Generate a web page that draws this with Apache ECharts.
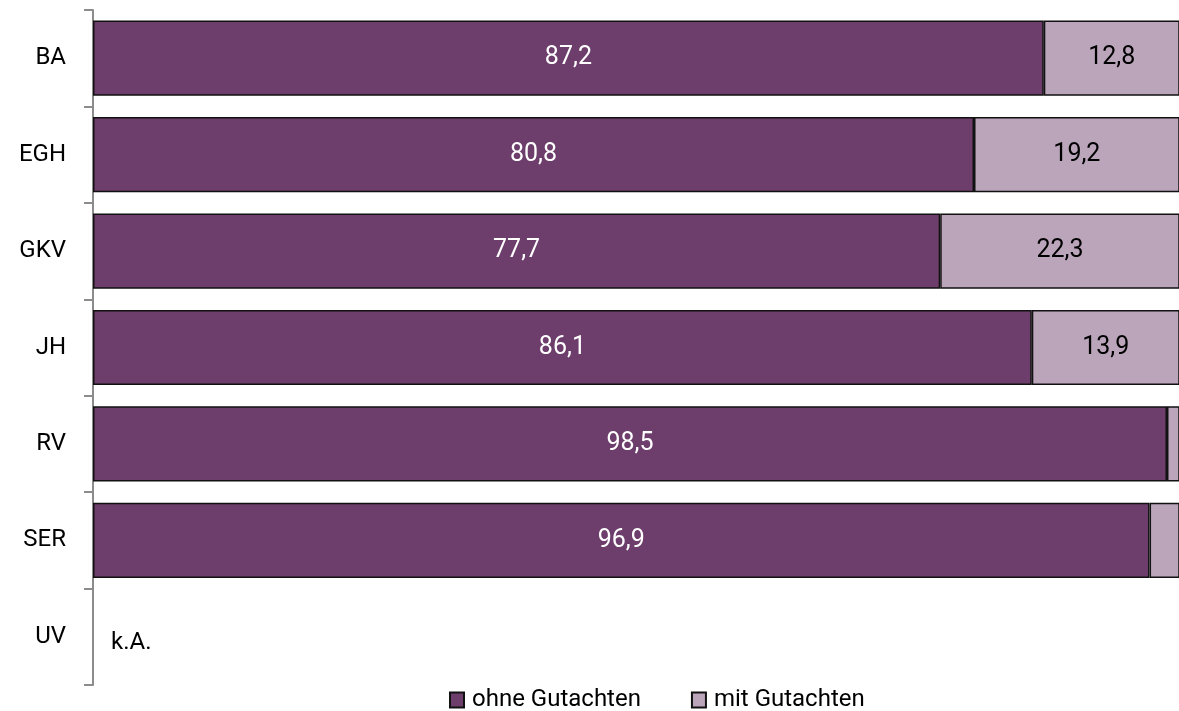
<!DOCTYPE html>
<html>
<head>
<meta charset="utf-8">
<script src="https://cdn.jsdelivr.net/npm/echarts@6/dist/echarts.min.js"></script>
<style>
  html, body { margin: 0; padding: 0; background: #fff; }
  #chart { width: 1179px; height: 711px; }
</style>
</head>
<body>
<div id="chart"></div>
<script>
// Kategorien (von oben nach unten)
const categories = ['BA', 'EGH', 'GKV', 'JH', 'RV', 'SER', 'UV']
// Anteile in %, UV ohne Angabe
const ohneGutachten = [87.2, 80.8, 77.7, 86.1, 98.5, 96.9, 0]
const mitGutachten = [12.8, 19.2, 22.3, 13.9, 1.5, 3.1, 0]
const showMitLabel = [true, true, true, true, false, false, false]
const noDataText = 'k.A.'

const fmt = v => v.toFixed(1).replace('.', ',')
const font = 'Roboto'

const chart = echarts.init(document.getElementById('chart'))

chart.setOption({
  animation: false,
  textStyle: { fontFamily: font },
  grid: { left: 93, top: 10, right: 0, bottom: 26 },
  legend: {
    left: 449,
    top: 688,
    padding: 0,
    icon: 'rect',
    itemWidth: 14,
    itemHeight: 15,
    itemGap: 50,
    textStyle: { fontSize: 24, color: '#000', fontFamily: font, padding: [0, 0, 0, 3] },
    data: ['ohne Gutachten', 'mit Gutachten']
  },
  xAxis: {
    type: 'value',
    min: 0,
    max: 99.6,   // 100 % liegt knapp rechts ausserhalb des Bildes
    show: false
  },
  yAxis: {
    type: 'category',
    inverse: true,
    data: categories,
    axisLine: { show: true, lineStyle: { color: '#8c8c8c', width: 2 } },
    axisTick: { show: true, length: 9, lineStyle: { color: '#8c8c8c', width: 2 } },
    axisLabel: { fontSize: 24, color: '#000', margin: 27, fontFamily: font }
  },
  series: [
    {
      name: 'ohne Gutachten',
      type: 'bar',
      stack: 'total',
      barWidth: '78%',
      itemStyle: { color: '#6d3d6b', borderColor: '#111', borderWidth: 1.5 },
      label: {
        show: true,
        position: 'inside',
        color: '#fff',
        fontSize: 25,
        fontFamily: font,
        formatter: p => fmt(p.value)
      },
      data: ohneGutachten.map(v => v === 0
        ? { value: 0, itemStyle: { borderWidth: 0 }, label: { position: 'right', distance: 18, offset: [0, 6], color: '#000', fontSize: 24, formatter: noDataText } }
        : v)
    },
    {
      name: 'mit Gutachten',
      type: 'bar',
      stack: 'total',
      barWidth: '78%',
      itemStyle: { color: '#bba5bb', borderColor: '#111', borderWidth: 1.5 },
      label: {
        show: true,
        position: 'inside',
        color: '#000',
        fontSize: 25,
        fontFamily: font,
        formatter: p => fmt(p.value)
      },
      data: mitGutachten.map((v, i) => v === 0
        ? { value: 0, itemStyle: { borderWidth: 0 }, label: { show: false } }
        : (showMitLabel[i] ? v : { value: v, label: { show: false } }))
    }
  ]
})
</script>
</body>
</html>
